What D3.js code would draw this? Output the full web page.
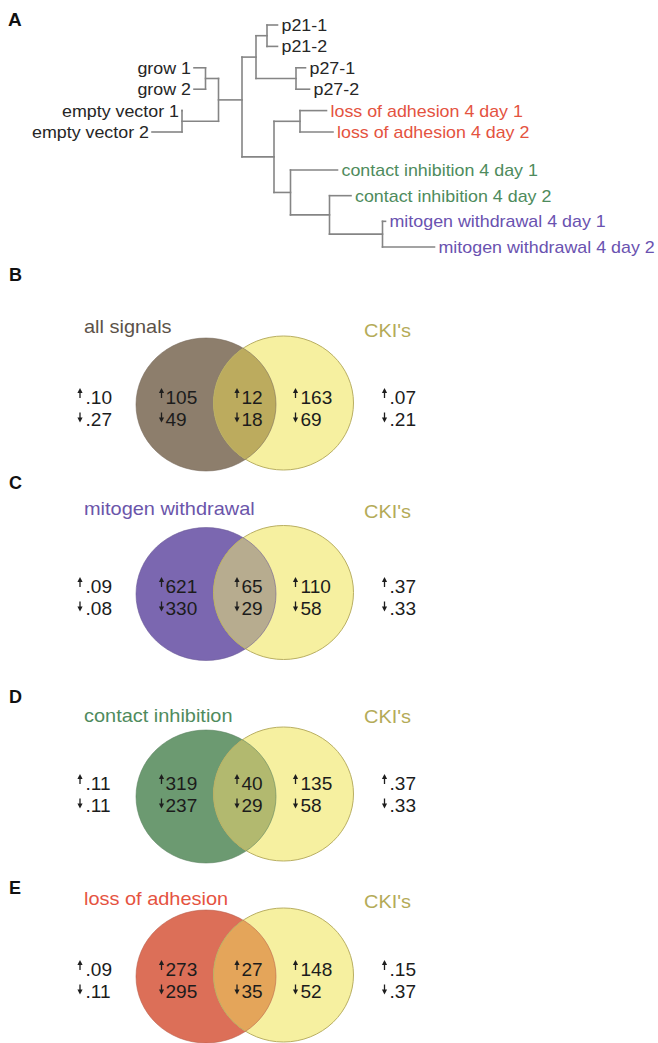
<!DOCTYPE html>
<html>
<head>
<meta charset="utf-8">
<script src="https://cdn.jsdelivr.net/npm/d3@7"></script>
<style>
  html, body { margin: 0; padding: 0; background: #fff; }
  svg { display: block; }
  text { font-family: "Liberation Sans", Arial, Helvetica, sans-serif; }
</style>
</head>
<body>
<svg id="fig" width="658" height="1043"></svg>
<script>
// ---------- Panel A: hierarchical clustering of the expression profiles ----------
// Branch lengths in distance units; the "left" subtree is drawn mirrored.
const clusterTree = {
  len: 0, children: [
    { len: 0.14, children: [
      { len: 0.11, children: [ { name: "p21-1", len: 0.105 }, { name: "p21-2", len: 0.105 } ] },
      { len: 0.40, children: [ { name: "p27-1", len: 0.095 }, { name: "p27-2", len: 0.135 } ] }
    ]},
    { len: 0.235, side: "left", children: [
      { len: 0.13, children: [ { name: "grow 1", len: 0.115 }, { name: "grow 2", len: 0.115 } ] },
      { len: 0.365, children: [ { name: "empty vector 1", len: 0.0 }, { name: "empty vector 2", len: 0.30 } ] }
    ]},
    { len: 0.32, children: [
      { len: 0.26, children: [
        { name: "loss of adhesion 4 day 1", len: 0.265 },
        { name: "loss of adhesion 4 day 2", len: 0.33 } ] },
      { len: 0.165, children: [
        { name: "contact inhibition 4 day 1", len: 0.47 },
        { len: 0.39, children: [
          { name: "contact inhibition 4 day 2", len: 0.215 },
          { len: 0.53, children: [
            { name: "mitogen withdrawal 4 day 1", len: 0.03 },
            { name: "mitogen withdrawal 4 day 2", len: 0.52 } ] } ] } ] } ] }
  ]
};
const sampleGroups = ["loss of adhesion", "contact inhibition", "mitogen withdrawal"];
const groupColors = ["#e4533f", "#4e8b5c", "#6a52b0"];

// ---------- Panels B-E: overlap of regulated genes with the CKI signature ----------
const panelLetters = ["B", "C", "D", "E"];
const signalNames = ["all signals", "mitogen withdrawal", "contact inhibition", "loss of adhesion"];
const ckiName = "CKI's";
// counts: [signal only, shared, CKI only]
const upCounts   = [[105, 12, 163], [621, 65, 110], [319, 40, 135], [273, 27, 148]];
const downCounts = [[49, 18, 69],   [330, 29, 58],  [237, 29, 58],  [295, 35, 52]];
// overlap fractions beside each set
const signalUpFrac   = [0.10, 0.09, 0.11, 0.09];
const signalDownFrac = [0.27, 0.08, 0.11, 0.11];
const ckiUpFrac      = [0.07, 0.37, 0.37, 0.15];
const ckiDownFrac    = [0.21, 0.33, 0.33, 0.37];

const svg = d3.select("#fig");

function stretchText(g, x, y, str, size, sx, anchor) {
  return g.append("text")
    .attr("transform", `translate(${x},${y}) scale(${sx},1)`)
    .attr("font-size", size)
    .attr("text-anchor", anchor || "start")
    .text(str);
}

// ----- Panel A -----
svg.append("text").attr("x", 8).attr("y", 26).attr("font-size", 19)
  .attr("font-weight", "bold").attr("fill", "#111").text("A");

const root = d3.hierarchy(clusterTree);
const xDist = d3.scaleLinear().domain([0, 1]).range([242, 342]);
const yRow = d3.scaleLinear().domain([0, 5, 6, 9]).range([25, 132, 170, 247]);

root.eachBefore(n => {
  if (!n.parent) { n.dist = 0; n.dir = 1; return; }
  n.dir = n.data.side === "left" ? -1 : n.parent.dir;
  n.dist = n.parent.dist + n.dir * n.data.len;
});
let rightRow = 0, leftRow = 2;
root.leaves().forEach(l => { l.row = l.dir < 0 ? leftRow++ : rightRow++; });
root.eachAfter(n => {
  n.px = xDist(n.dist);
  if (n.children) {
    n.py = (n.children[0].py + n.children[n.children.length - 1].py) / 2;
  } else {
    n.py = yRow(n.row);
  }
});

const gA = svg.append("g");
const treeLines = [];
root.descendants().forEach(n => {
  if (n.parent) treeLines.push([n.parent.px, n.py, n.px, n.py]);
  if (n.children) {
    const c = n.children;
    treeLines.push([n.px, c[0].py, n.px, c[c.length - 1].py]);
  }
});
gA.selectAll("line.branch").data(treeLines).join("line")
  .attr("class", "branch")
  .attr("x1", d => d[0]).attr("y1", d => d[1])
  .attr("x2", d => d[2]).attr("y2", d => d[3])
  .attr("stroke", "#858585").attr("stroke-width", 1.6)
  .attr("stroke-linecap", "square");

root.leaves().forEach(l => {
  const gi = sampleGroups.findIndex(s => l.data.name.startsWith(s));
  const left = l.dir < 0;
  stretchText(gA, l.px + (left ? -3 : 4), l.py + 6, l.data.name, 17, 1.05, left ? "end" : "start")
    .attr("fill", gi < 0 ? "#262626" : groupColors[gi]);
});

// ----- Panels B-E -----
const panelLayout = [
  { letter: 281, label: 333, cki: 337, cyL: 404.5, cyR: 403,   row: 404 },
  { letter: 489, label: 515, cki: 518, cyL: 594,   cyR: 592.5, row: 593 },
  { letter: 703, label: 722, cki: 723, cyL: 796.5, cyR: 794,   row: 790 },
  { letter: 894, label: 905, cki: 908, cyL: 976.5, cyR: 975,   row: 976 }
];
const setFill    = ["#8d7e6c", "#7b67b0", "#6c9a71", "#dc6f58"];
const shareFill  = ["#bcab5e", "#b7ac8f", "#b2b96f", "#e4a55a"];
const labelColor = ["#5c5248", "#6b55aa", "#4f8b5d", "#e5533f"];
const ckiFill = "#f6f0a0", ckiStroke = "#b9af63", ckiLabel = "#b4ab58";

const ellL = { cx: 206, rx: 70, ry: 66.5 };
const ellR = { cx: 283.5, rx: 70, ry: 67 };
const colArrow = [80, 161.5, 237, 295.5, 384.5];
const colText  = [85.5, 165.5, 241.5, 300.5, 389.5];
const fmtFrac = v => d3.format(".2f")(v).replace(/^0/, "");

function arrow(g, x, b, up) {
  const top = up ? b - 16 : b - 13, bot = up ? b - 6 : b - 3;
  const hw = 2.6, hh = 5;
  g.append("line").attr("x1", x).attr("x2", x)
    .attr("y1", up ? top + hh - 0.5 : top).attr("y2", up ? bot : bot - hh + 0.5)
    .attr("stroke", "#1e1e1e").attr("stroke-width", 1.3);
  const head = up
    ? `M${x - hw},${top + hh}L${x},${top}L${x + hw},${top + hh}Z`
    : `M${x - hw},${bot - hh}L${x},${bot}L${x + hw},${bot - hh}Z`;
  g.append("path").attr("d", head).attr("fill", "#1e1e1e");
}

panelLetters.forEach((letter, i) => {
  const L = panelLayout[i];
  const g = svg.append("g");
  g.append("text").attr("x", 9).attr("y", L.letter).attr("font-size", 18)
    .attr("font-weight", "bold").attr("fill", "#111").text(letter);

  stretchText(g, 84, L.label, signalNames[i], 19, 1.05).attr("fill", labelColor[i]);
  stretchText(g, 364, L.cki, ckiName, 19, 1.05).attr("fill", ckiLabel);

  const clipId = "clipCki" + i;
  g.append("clipPath").attr("id", clipId).append("ellipse")
    .attr("cx", ellR.cx).attr("cy", L.cyR).attr("rx", ellR.rx).attr("ry", ellR.ry);

  g.append("ellipse").attr("cx", ellL.cx).attr("cy", L.cyL).attr("rx", ellL.rx).attr("ry", ellL.ry)
    .attr("fill", setFill[i]);
  g.append("ellipse").attr("cx", ellR.cx).attr("cy", L.cyR).attr("rx", ellR.rx).attr("ry", ellR.ry)
    .attr("fill", ckiFill);
  g.append("ellipse").attr("cx", ellL.cx).attr("cy", L.cyL).attr("rx", ellL.rx).attr("ry", ellL.ry)
    .attr("fill", shareFill[i]).attr("clip-path", `url(#${clipId})`);
  g.append("ellipse").attr("cx", ellR.cx).attr("cy", L.cyR).attr("rx", ellR.rx).attr("ry", ellR.ry)
    .attr("fill", "none").attr("stroke", ckiStroke).attr("stroke-width", 1);
  g.append("ellipse").attr("cx", ellL.cx).attr("cy", L.cyL).attr("rx", ellL.rx).attr("ry", ellL.ry)
    .attr("fill", "none").attr("stroke", d3.color(setFill[i]).darker(0.5)).attr("stroke-width", 0.8)
    .attr("stroke-opacity", 0.7);

  const upVals = [fmtFrac(signalUpFrac[i]), ...upCounts[i].map(String), fmtFrac(ckiUpFrac[i])];
  const downVals = [fmtFrac(signalDownFrac[i]), ...downCounts[i].map(String), fmtFrac(ckiDownFrac[i])];
  [upVals, downVals].forEach((vals, r) => {
    const b = L.row + r * 21.5;
    vals.forEach((v, c) => {
      arrow(g, colArrow[c], b, r === 0);
      stretchText(g, colText[c], b, v, 18, 1.06).attr("fill", "#1c1c1c");
    });
  });
});
</script>
</body>
</html>
